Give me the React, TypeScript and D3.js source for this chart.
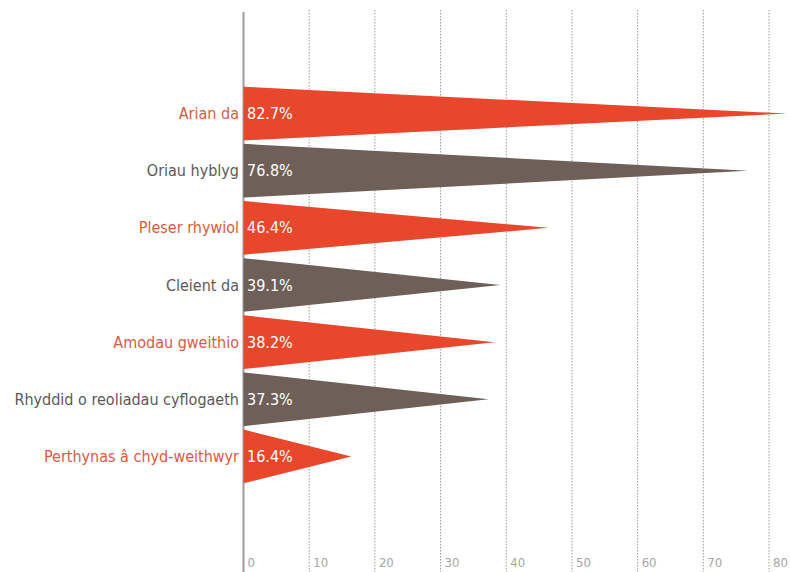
import React from "react";
import * as d3 from "d3";

const categories = [
  "Arian da",
  "Oriau hyblyg",
  "Pleser rhywiol",
  "Cleient da",
  "Amodau gweithio",
  "Rhyddid o reoliadau cyflogaeth",
  "Perthynas â chyd-weithwyr",
];
const values = [82.7, 76.8, 46.4, 39.1, 38.2, 37.3, 16.4];
const valueLabels = ["82.7%", "76.8%", "46.4%", "39.1%", "38.2%", "37.3%", "16.4%"];
const tickValues = [0, 10, 20, 30, 40, 50, 60, 70, 80];

const W = 790;
const H = 572;
const FONT = "'DejaVu Sans Condensed', 'Liberation Sans Narrow', 'Roboto', sans-serif";
const ORANGE = "#E8472B";
const GRAY = "#6E5F59";
const ORANGE_TXT = "#DB5A42";
const GRAY_TXT = "#5E5858";

export default function App() {
  const x = d3.scaleLinear().domain([0, 80]).range([243.5, 769]);
  const y = d3.scaleBand<string>().domain(categories).range([85, 485]).paddingInner(0.06).paddingOuter(0.03);
  const bw = y.bandwidth();

  return (
    <svg width={W} height={H} style={{ position: "absolute", left: 0, top: 0, background: "#fff" }}>
      {tickValues.filter((t) => t > 0).map((t) => (
        <line key={t} x1={x(t)} x2={x(t)} y1={10} y2={H} stroke="#9a9a9a" strokeWidth={1} strokeDasharray="1.5,1.5" />
      ))}
      <line x1={x(0)} x2={x(0)} y1={12} y2={H} stroke="#9c9c9c" strokeWidth={2} />
      {categories.map((c, i) => {
        const top = y(c)!;
        const bot = top + bw;
        const mid = top + bw / 2;
        const path = d3.path();
        path.moveTo(x(0), top);
        path.lineTo(x(values[i]), mid);
        path.lineTo(x(0), bot);
        path.closePath();
        const even = i % 2 === 0;
        return (
          <g key={c}>
            <path d={path.toString()} fill={even ? ORANGE : GRAY} />
            <text x={239} y={mid} dy="0.35em" textAnchor="end" fontFamily={FONT} fontSize={16} fill={even ? ORANGE_TXT : GRAY_TXT}>
              {c}
            </text>
            <text x={247} y={mid} dy="0.35em" fontFamily={FONT} fontSize={16} fill="#fff">
              {valueLabels[i]}
            </text>
          </g>
        );
      })}
      {tickValues.map((t) => (
        <text key={t} x={x(t) + 4} y={567} fontFamily={FONT} fontSize={13} fill="#a5a5a5">
          {t}
        </text>
      ))}
    </svg>
  );
}
